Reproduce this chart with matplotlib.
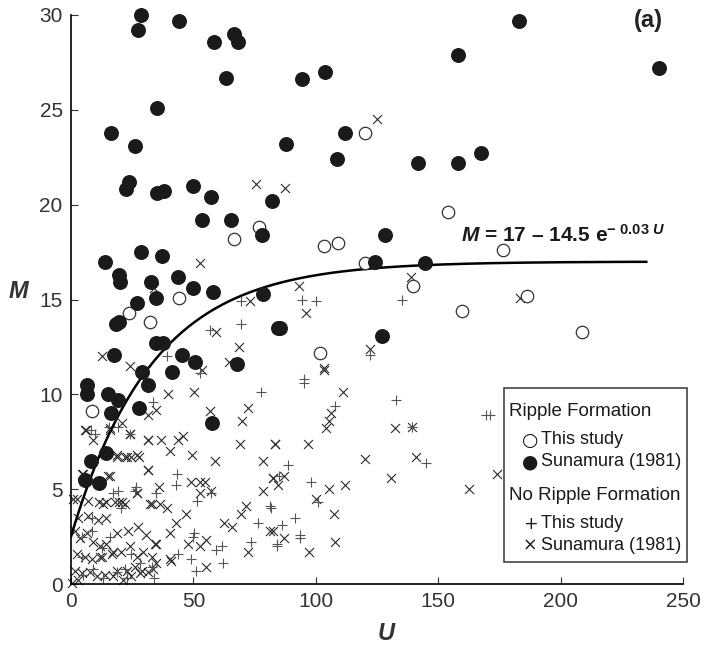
import numpy as np
import matplotlib.pyplot as plt

plt.rcParams['font.family'] = ['Liberation Sans', 'DejaVu Sans']
plt.rcParams['mathtext.fontset'] = 'custom'
plt.rcParams['mathtext.rm'] = 'Liberation Sans:bold'
plt.rcParams['mathtext.it'] = 'Liberation Sans:italic:bold'

# Ripple formation, this study (open circles)
rip_this_u = [8.6, 23.6, 32.3, 44.0, 66.4, 76.6, 101.8, 103.5, 109.2, 120.2, 120.0,
              139.8, 154.1, 159.6, 176.4, 186.3, 208.7]
rip_this_m = [9.1, 14.3, 13.8, 15.1, 18.2, 18.8, 12.2, 17.8, 18.0, 16.9, 23.8,
              15.7, 19.6, 14.4, 17.6, 15.2, 13.3]

# Ripple formation, Sunamura (1981) (filled circles)
rip_suna_u = [28.5, 27.2, 44.1, 58.4, 66.4, 68.3, 63.5, 35.2, 16.3, 26.1,
              157.9, 103.7, 94.4, 112.1, 87.9, 108.5, 141.6, 158.2, 167.5, 183.2, 240.2,
              23.8, 22.4, 35.2, 38.0, 49.8, 57.0, 82.0,
              53.6, 65.4, 78.1, 28.5, 37.1, 13.8, 19.7, 20.2, 32.5, 43.7, 49.8, 58.0,
              34.7, 27.0, 78.3, 19.7, 18.2, 34.9, 37.6, 84.4, 17.5, 45.2, 50.5, 67.8,
              29.2, 41.4, 31.5, 6.6, 6.6, 15.2, 19.3, 27.7, 16.2, 57.7, 14.3, 8.0,
              5.8, 11.4, 128.3, 124.2, 144.5, 85.4, 127.0]
rip_suna_m = [30.0, 29.2, 29.7, 28.6, 29.0, 28.6, 26.7, 25.1, 23.8, 23.1,
              27.9, 27.0, 26.6, 23.8, 23.2, 22.4, 22.2, 22.2, 22.7, 29.7, 27.2,
              21.2, 20.8, 20.6, 20.7, 21.0, 20.4, 20.2,
              19.2, 19.2, 18.4, 17.5, 17.3, 17.0, 16.3, 15.9, 15.9, 16.2, 15.6, 15.4,
              15.1, 14.8, 15.3, 13.8, 13.7, 12.7, 12.7, 13.5, 12.1, 12.1, 11.7, 11.6,
              11.2, 11.2, 10.5, 10.5, 10.0, 10.0, 9.7, 9.3, 9.0, 8.5, 6.9, 6.5,
              5.5, 5.3, 18.4, 17.0, 16.9, 13.5, 13.1]

# No ripple formation, this study (+)
no_this_u = [69.5, 69.5, 56.6, 39.2, 52.5, 77.7, 33.3, 15.6, 19.3, 8.0, 24.3, 43.3,
             43.0, 26.5, 19.3, 57.3, 34.9, 51.4, 81.1, 76.3, 50.1, 49.8, 59.3, 61.6,
             73.6, 84.0, 62.1, 49.2, 51.2, 33.8, 43.7, 95.3, 107.9, 132.7, 139.2,
             145.1, 88.8, 85.1, 98.0, 100.7, 81.7, 91.6, 86.2, 93.6, 93.6, 84.0,
             169.6, 94.2, 100.1, 135.4, 122.1, 95.3, 171.0, 9.8, 17.2, 20.6, 26.1,
             8.4, 4.3, 8.4, 12.5, 15.9, 28.1, 32.9, 18.6, 22.0, 5.0, 9.1, 4.3, 24.7,
             13.2, 22.7]
no_this_m = [14.9, 13.7, 13.4, 12.0, 11.1, 10.1, 9.6, 8.3, 8.3, 8.1, 7.9, 5.8,
             5.2, 5.1, 4.9, 4.8, 4.8, 4.4, 4.1, 3.2, 2.7, 2.5, 1.8, 2.0,
             2.2, 2.1, 1.1, 1.3, 0.7, 0.3, 1.6, 10.6, 9.4, 9.7, 8.3,
             6.4, 6.3, 5.7, 5.4, 4.3, 4.0, 3.5, 3.1, 2.6, 2.4, 2.0,
             8.9, 15.0, 14.9, 15.0, 12.1, 10.8, 8.9, 7.9, 4.8, 4.0, 4.9,
             3.5, 2.5, 2.8, 1.9, 2.5, 1.1, 0.9, 0.65, 0.8, 0.5, 0.8, 1.4, 1.6,
             0.3, 0.3]

# No ripple formation, Sunamura (1981) (x)
no_suna_u = [75.6, 124.9, 52.7, 33.8, 73.2, 59.3, 68.8, 12.6, 24.0, 64.5, 53.4,
             39.6, 50.2, 72.5, 56.6, 69.9, 31.5, 34.9, 21.0, 5.8, 15.9, 24.3, 9.1,
             31.5, 36.9, 43.7, 45.7, 40.6, 69.0, 83.5, 18.9, 22.0, 24.7, 27.8, 49.6,
             58.7, 31.5, 78.3, 4.8, 15.9, 49.2, 52.5, 54.9, 82.4, 36.0, 27.0, 52.5,
             57.3, 78.3, 0.9, 11.5, 14.3, 21.0, 19.7, 32.2, 36.3, 39.4, 46.8, 43.0,
             62.7, 65.9, 69.5, 71.6, 81.1,
             103.5, 111.3, 106.2, 105.5, 104.2, 132.3, 139.2, 83.4, 96.9, 120.2,
             140.8, 130.8, 87.2, 82.4, 84.4, 105.5, 112.0, 162.5, 100.1, 107.5,
             82.4, 87.2, 107.8, 97.1, 87.6, 93.0, 96.0, 138.8, 122.1, 103.5, 183.6,
             174.1,
             6.1, 15.9, 23.9, 31.5, 18.6, 22.7, 26.8, 31.5, 4.3, 15.2, 2.3, 7.1, 13.2,
             17.9, 22.0, 26.8, 32.9, 3.0, 7.1, 11.1, 14.5, 18.6, 23.4, 27.4, 30.8,
             34.9, 1.6, 3.7, 6.4, 9.1, 11.8, 14.5, 17.2, 20.6, 24.0, 26.8, 29.5,
             32.9, 34.9, 2.3, 5.7, 8.4, 11.8, 1.6, 4.3, 7.7, 10.5, 13.9, 17.2, 21.3,
             24.7, 28.1, 31.5, 0.3, 3.0,
             40.3, 34.2, 40.3, 41.0, 28.8, 33.5, 26.1, 22.7, 18.6, 52.5, 55.3, 47.8,
             55.3, 72.2, 16.9, 12.8]
no_suna_m = [21.1, 24.5, 16.9, 15.6, 14.9, 13.3, 12.5, 12.0, 11.5, 11.7, 11.3,
             10.0, 10.1, 9.3, 9.1, 8.6, 8.9, 9.2, 8.5, 8.1, 8.2, 7.9, 7.6,
             7.6, 7.6, 7.6, 7.8, 7.0, 7.4, 7.4, 6.7, 6.7, 6.7, 6.7, 6.8,
             6.5, 6.0, 6.5, 5.8, 5.7, 5.4, 5.4, 5.4, 5.6, 5.1, 4.8, 4.8,
             4.9, 4.9, 4.5, 4.3, 4.3, 4.3, 4.3, 4.2, 4.2, 4.0, 3.7, 3.2,
             3.2, 3.0, 3.7, 4.1, 2.8,
             11.3, 10.1, 9.0, 8.6, 8.2, 8.2, 8.3, 7.4, 7.4, 6.6,
             6.7, 5.6, 5.7, 5.6, 5.2, 5.0, 5.2, 5.0, 4.5, 3.7,
             2.8, 2.4, 2.2, 1.7, 20.9, 15.7, 14.3, 16.2, 12.4, 11.4, 15.1,
             5.8,
             8.1, 8.1, 7.9, 7.6, 6.8, 6.7, 6.8, 6.0, 5.8, 5.7, 4.5, 4.4, 4.2,
             4.3, 4.2, 4.8, 4.2, 3.5, 3.6, 3.4, 3.5, 2.7, 2.8, 3.0, 2.6,
             2.1, 2.8, 2.4, 2.7, 2.2, 2.0, 2.1, 1.7, 1.7, 2.0, 1.4, 1.7,
             1.4, 1.1, 1.6, 1.4, 1.3, 1.4, 0.7, 0.6, 0.65, 0.4, 0.5, 0.4, 0.2,
             0.4, 0.6, 0.65, 0.05, 0.2,
             2.7, 2.1, 1.3, 1.2, 0.7, 0.8, 0.9, 0.7, 0.7, 2.0, 2.3, 2.1,
             0.9, 1.7, 1.6, 1.4]

# fitted curve M = 17 - 14.5 exp(-0.03 U)
fit_a, fit_b, fit_k = 17.0, 14.5, 0.03
fit_u = np.linspace(0, 235, 300)
fit_m = fit_a - fit_b * np.exp(-fit_k * fit_u)

fig = plt.figure(figsize=(7.04, 6.57), dpi=100)
ax = fig.add_axes([71 / 704, 1 - 584 / 657, 612 / 704, 569 / 657])

ax.scatter(no_suna_u, no_suna_m, marker='x', s=42, color='#2a2a2a', linewidths=0.8, clip_on=False)
ax.scatter(no_this_u, no_this_m, marker='+', s=62, color='#555555', linewidths=0.8, clip_on=False)
ax.plot(fit_u, fit_m, color='black', lw=1.8)
ax.scatter(rip_this_u, rip_this_m, marker='o', s=80, facecolors='white', edgecolors='#333333',
           linewidths=0.9, clip_on=False, zorder=3)
ax.scatter(rip_suna_u, rip_suna_m, marker='o', s=95, color='#1a1a1a', clip_on=False, zorder=4)

ax.set_xlim(0, 250)
ax.set_ylim(0, 30)
ax.set_xticks([0, 50, 100, 150, 200, 250])
ax.set_yticks([0, 5, 10, 15, 20, 25, 30])
ax.tick_params(direction='in', length=5, labelsize=15, colors='#333333', pad=6)
for s in ['top', 'right']:
    ax.spines[s].set_visible(False)
for s in ['left', 'bottom']:
    ax.spines[s].set_linewidth(1.2)

fig.text(18 / 704, 1 - 292 / 657, 'M', fontsize=17, style='italic', fontweight='bold',
         color='#333333', ha='center', va='center')
fig.text(386 / 704, 1 - 634 / 657, 'U', fontsize=17, style='italic', fontweight='bold',
         color='#333333', ha='center', va='center')

ax.text(159.5, 18.05, r'$M$ = 17 – 14.5 e$^{-\ 0.03\ U}$', fontsize=15, fontweight='bold',
        color='#1a1a1a', ha='left', va='baseline')
ax.text(236, 29.7, '(a)', fontsize=17, fontweight='bold', color='#222222', ha='center', va='center')

# legend box
box = plt.Rectangle((504 / 704, 1 - 562 / 657), 183 / 704, 174 / 657, transform=fig.transFigure,
                    facecolor='white', edgecolor='#444444', lw=1.2, zorder=10)
fig.add_artist(box)
leg_heads = [(509, 412, 'Ripple Formation'), (509, 495, 'No Ripple Formation')]
leg_rows = [
    (440, '○', 'This study'),
    (462, '●', 'Sunamura (1981)'),
    (524, '+', 'This study'),
    (546, '×', 'Sunamura (1981)'),
]
for x, y, t in leg_heads:
    fig.text(x / 704, 1 - y / 657, t, fontsize=13.5, color='#1a1a1a',
             ha='left', va='center', zorder=11)
for y, sym, t in leg_rows:
    fig.text(530 / 704, 1 - y / 657, sym, fontsize=13.5 if sym in '○●' else 12.5,
             family=['DejaVu Sans'], color='#1a1a1a', ha='center', va='center', zorder=11)
    fig.text(541 / 704, 1 - y / 657, t, fontsize=13, color='#1a1a1a',
             ha='left', va='center', zorder=11)

fig.savefig('out.png', dpi=100)
